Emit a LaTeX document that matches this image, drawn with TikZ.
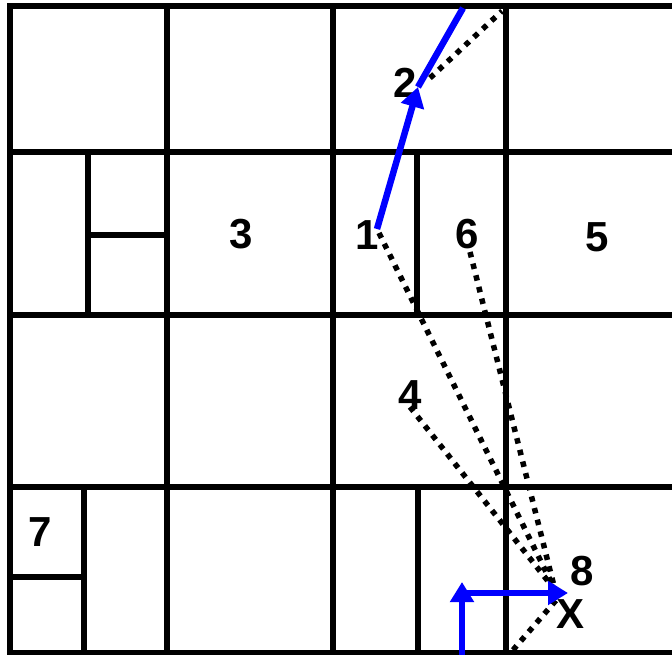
\documentclass[tikz,border=0pt]{standalone}
\usepackage{fontspec}
\setmainfont{Liberation Sans}
\usetikzlibrary{arrows.meta}
\definecolor{pblue}{RGB}{0,0,255}
\begin{document}
\begin{tikzpicture}[x=1pt,y=-1pt,
  grid/.style={line width=5.5pt,black,line cap=rect},
  lbl/.style={font=\fontsize{42}{42}\selectfont\bfseries,inner sep=0pt},
  dots/.style={line width=5.5pt,dash pattern=on 5.5pt off 6.5pt,black},
  bluearrow/.style={line width=6.5pt,pblue,-{Triangle[width=23pt,length=20pt]}},
  blueline/.style={line width=6.5pt,pblue}]
\useasboundingbox (0,0) rectangle (672,655);
% grid
\draw[grid] (10,6) -- (672,6);
\draw[grid] (10,152) -- (672,152);
\draw[grid] (10,315) -- (672,315);
\draw[grid] (10,487) -- (672,487);
\draw[grid] (10,653) -- (672,653);
\draw[grid] (10,6) -- (10,653);
\draw[grid] (167,6) -- (167,648);
\draw[grid] (333,6) -- (333,648);
\draw[grid] (506,6) -- (506,653);
\draw[grid] (88,152) -- (88,315);
\draw[grid] (88,235) -- (167,235);
\draw[grid] (417,158) -- (417,315);
\draw[grid] (84,487) -- (84,653);
\draw[grid] (10,577) -- (84,577);
\draw[grid] (418,487) -- (418,653);
% labels
\node[lbl] (n2) at (405,83) {2};
\node[lbl] (n3) at (241,234) {3};
\node[lbl] (n1) at (367,235) {1};
\node[lbl] (n6) at (467,234) {6};
\node[lbl] (n5) at (597,237) {5};
\node[lbl] (n4) at (410,395) {4};
\node[lbl] (n7) at (40,532) {7};
\node[lbl] (n8) at (582,571) {8};
\node[lbl] (nx) at (571,614) {X};
% coordinates
\coordinate (p1) at (377,229);
\coordinate (p2) at (418,87);
\coordinate (ptop) at (463,8);
\coordinate (pcorner) at (502,11);
\coordinate (pd2) at (430,78);
\coordinate (pd1) at (379,233);
\coordinate (pd6) at (470,252);
\coordinate (pd4) at (410,407);
\coordinate (px) at (555,590);
\coordinate (pbot) at (513,650);
\coordinate (pxb) at (558,598);
\coordinate (pv0) at (462,655);
\coordinate (pv1) at (462,582);
\coordinate (ph0) at (462,593);
\coordinate (ph1) at (568,593);
% dotted
\draw[dots] (pd2) -- (pcorner);
\draw[dots] (pd1) -- (px);
\draw[dots] (pd6) -- (px);
\draw[dots] (pd4) -- (px);
\draw[dots] (pbot) -- (pxb);
% blue
\draw[blueline] (p2) -- (ptop);
\draw[bluearrow] (p1) -- (p2);
\draw[bluearrow] (pv0) -- (pv1);
\draw[bluearrow] (ph0) -- (ph1);
\end{tikzpicture}
\end{document}
